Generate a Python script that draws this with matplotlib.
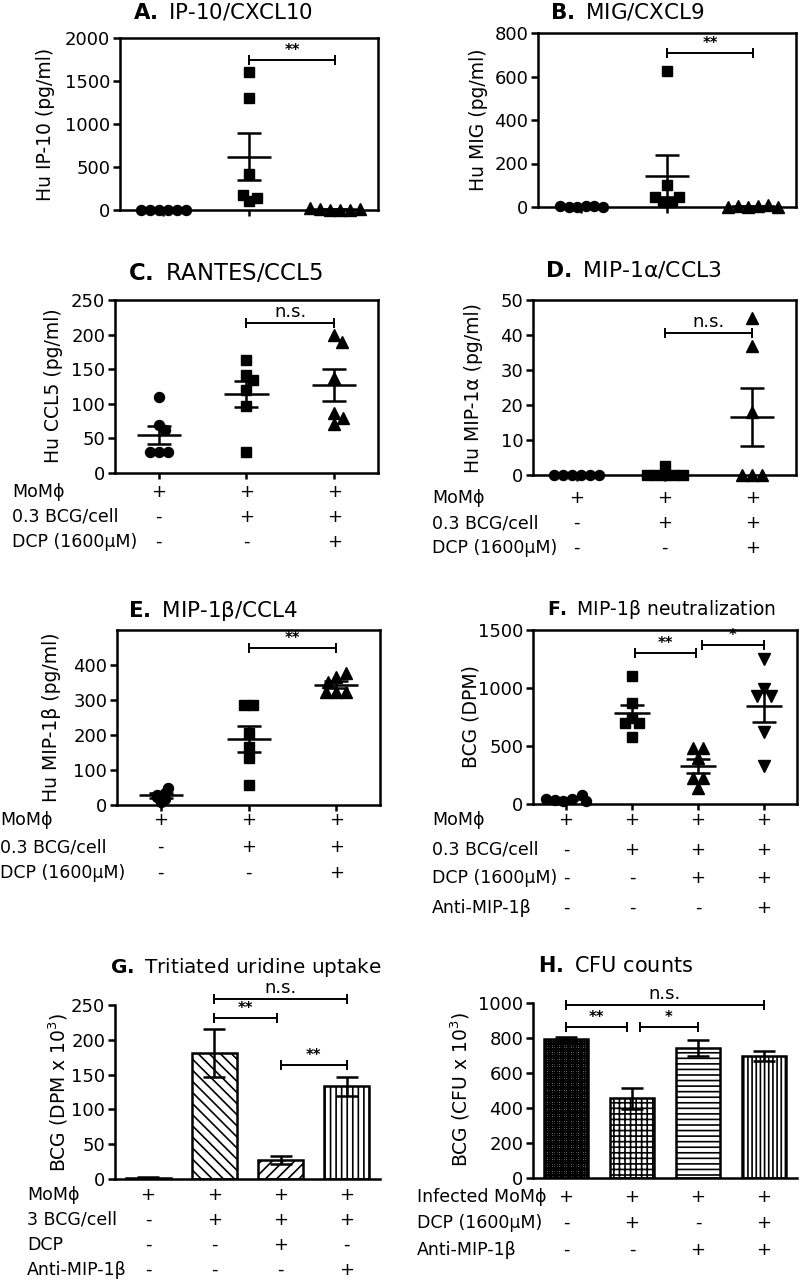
import numpy as np
import matplotlib
matplotlib.use('Agg')
import matplotlib.pyplot as plt
from matplotlib.transforms import blended_transform_factory

plt.rcParams['font.family'] = ['DejaVu Sans']
plt.rcParams['mathtext.fontset'] = 'dejavusans'
plt.rcParams['hatch.linewidth'] = 1.2

# ---------------- data ----------------
# A. IP-10/CXCL10
a_g1 = [0, 0, 0, 0, 0, 0]
a_g2 = [1600, 1300, 420, 100, 140, 170]
a_g3 = [0, 5, 12, 0, 18, 8]
# B. MIG/CXCL9
b_g1 = [0, 4, 2, 6, 3, 1]
b_g2 = [625, 100, 25, 25, 45, 45]
b_g3 = [0, 6, 3, 10, 2, 0]
# C. RANTES/CCL5
c_g1 = [110, 70, 62, 30, 30, 30]
c_g2 = [163, 142, 134, 120, 97, 31]
c_g3 = [199, 190, 138, 86, 79, 71]
# D. MIP-1a/CCL3
d_g1 = [0, 0, 0, 0, 0, 0]
d_g2 = [0, 0, 0, 0, 0, 2.5]
d_g3 = [45, 37, 18, 0, 0, 0]
# E. MIP-1b/CCL4
e_g1 = [35, 50, 30, 22, 8, 18]
e_g2 = [286, 286, 205, 167, 134, 57]
e_g3 = [367, 377, 352, 322, 322, 322]
# F. MIP-1b neutralization
f_g1 = [30, 40, 35, 75, 45, 30]
f_g2 = [1103, 870, 741, 698, 698, 578]
f_g3 = [480, 480, 396, 224, 224, 140]
f_g4 = [1250, 990, 930, 930, 620, 330]
# G. Tritiated uridine uptake (mean, SEM)
g_mean = [2, 181, 27, 133]
g_sem = [1, 35, 6, 14]
# H. CFU counts (mean, SEM)
h_mean = [795, 455, 745, 698]
h_sem = [12, 60, 45, 27]

rows3_labels = ['MoMϕ', '0.3 BCG/cell', 'DCP (1600μM)']
rows3_signs = [['+', '+', '+'], ['-', '+', '+'], ['-', '-', '+']]
f_labels = ['MoMϕ', '0.3 BCG/cell', 'DCP (1600μM)', 'Anti-MIP-1β']
f_signs = [['+', '+', '+', '+'], ['-', '+', '+', '+'], ['-', '-', '+', '+'], ['-', '-', '-', '+']]
g_labels = ['MoMϕ', '3 BCG/cell', 'DCP', 'Anti-MIP-1β']
g_signs = [['+', '+', '+', '+'], ['-', '+', '+', '+'], ['-', '-', '+', '-'], ['-', '-', '-', '+']]
h_labels = ['Infected MoMϕ', 'DCP (1600μM)', 'Anti-MIP-1β']
h_signs = [['+', '+', '+', '+'], ['-', '+', '-', '+'], ['-', '-', '+', '+']]

# ---------------- figure ----------------
W, H = 800, 1282
fig = plt.figure(figsize=(W / 100, H / 100), dpi=100)
renderer = fig.canvas.get_renderer()

LW = 1.8
TICK_FS = 13
YLAB_FS = 13.5
TITLE_FS = 15.5
ROW_FS = 12.5
SIGN_FS = 13


def make_ax(l, t, r, b, box=True):
    ax = fig.add_axes([l / W, 1 - b / H, (r - l) / W, (b - t) / H])
    for s in ax.spines.values():
        s.set_linewidth(LW)
    if not box:
        ax.spines['top'].set_visible(False)
        ax.spines['right'].set_visible(False)
    ax.tick_params(axis='y', labelsize=TICK_FS, length=5, width=LW, pad=2)
    ax.tick_params(axis='x', length=4, width=LW, labelbottom=False)
    ax.set_facecolor('none')
    return ax


def px_per_unit(ax):
    a = ax.transData.transform([(0, 0), (1, 0)])
    return a[1, 0] - a[0, 0]


def swarm(ax, x0, vals, diam_px, frac=0.85):
    pts = np.column_stack([np.full(len(vals), float(x0)), np.asarray(vals, float)])
    ys = ax.transData.transform(pts)[:, 1]
    dmin = diam_px * frac
    cands = sorted(np.arange(-40, 40.01, 0.5), key=lambda c: (abs(c), -c))
    placed, offs = [], []
    for y in ys:
        for c in cands:
            if all((c - px) ** 2 + (y - py) ** 2 >= dmin ** 2 - 1e-6 for px, py in placed):
                break
        placed.append((c, y))
        offs.append(c)
    offs = np.array(offs)
    # centre clusters of (nearly) equal values
    order = np.argsort(ys)
    clusters, cur = [], [order[0]]
    for a, b in zip(order[:-1], order[1:]):
        if ys[b] - ys[a] < 2.0:
            cur.append(b)
        else:
            clusters.append(cur)
            cur = [b]
    clusters.append(cur)
    for cl in clusters:
        if len(cl) > 1:
            cl = np.array(cl)
            offs[cl] -= (offs[cl].max() + offs[cl].min()) / 2
    return offs / px_per_unit(ax)


def dot_panel(ax, groups, markers, mean_hw_px=22, cap_px=12):
    ppu = px_per_unit(ax)
    for i, (vals, m) in enumerate(zip(groups, markers)):
        x0 = i + 1
        ms = 7.2 if m in ('o', 's') else 8.2
        off = swarm(ax, x0, vals, ms * 1.39)
        ax.plot(x0 + off, vals, ls='none', marker=m, ms=ms, color='k', mec='k',
                clip_on=False, zorder=3)
        v = np.asarray(vals, float)
        mean = v.mean()
        sem = v.std(ddof=1) / np.sqrt(len(v))
        hw = mean_hw_px / ppu
        ax.plot([x0 - hw, x0 + hw], [mean, mean], color='k', lw=LW, zorder=4,
                solid_capstyle='butt', clip_on=False)
        ax.errorbar([x0], [mean], yerr=[sem], fmt='none', ecolor='k', elinewidth=LW,
                    capsize=cap_px / 1.389, capthick=LW, zorder=4, clip_on=False)


def bar_panel(ax, means, sems, hatches):
    x = np.arange(1, len(means) + 1)
    ax.bar(x, means, width=0.68, color='white', edgecolor='k', linewidth=LW,
           hatch=hatches, zorder=2)
    ax.errorbar(x, means, yerr=sems, fmt='none', ecolor='k', elinewidth=LW,
                capsize=8, capthick=LW, zorder=3)


def sig(ax, x1, x2, y, text, bold):
    ax.plot([x1, x2], [y, y], color='k', lw=1.4, marker='|', ms=7, mew=1.4,
            clip_on=False, zorder=5)
    ax.annotate(text, xy=((x1 + x2) / 2, y), xytext=(0, 1.5), textcoords='offset points',
                ha='center', va='bottom', fontsize=10.5 if bold else 13,
                fontweight='bold' if bold else 'normal', annotation_clip=False)


def rows(ax, labels, signs, label_x_px, bottom_px, offsets_px):
    trans = blended_transform_factory(ax.transData, fig.transFigure)
    for lab, sg, off in zip(labels, signs, offsets_px):
        yf = 1 - (bottom_px + off) / H
        fig.text(label_x_px / W, yf, lab, ha='left', va='center', fontsize=ROW_FS)
        for i, s in enumerate(sg):
            ax.text(i + 1, yf, s, transform=trans, ha='center', va='center',
                    fontsize=SIGN_FS)


def title(x_px, base_px, letter, rest, width_px):
    t = fig.text(x_px / W, 1 - base_px / H, r'$\mathbf{' + letter + r'.}$ ' + rest,
                 ha='left', va='baseline', fontsize=TITLE_FS)
    for _ in range(2):
        w = t.get_window_extent(renderer).width
        t.set_fontsize(min(16.5, t.get_fontsize() * width_px / w))


def ylab(cx, cy, text):
    fig.text(cx / W, 1 - cy / H, text, rotation=90, ha='center', va='center',
             fontsize=YLAB_FS)


# ---- A ----
axA = make_ax(120, 38, 378, 210)
axA.set_xlim(0.5, 3.5); axA.set_ylim(0, 2000)
axA.set_yticks([0, 500, 1000, 1500, 2000]); axA.set_xticks([1, 2, 3])
dot_panel(axA, [a_g1, a_g2, a_g3], ['o', 's', '^'])
sig(axA, 2, 3, 1744, '**', True)
title(133, 19, 'A', 'IP-10/CXCL10', 180)
ylab(46, 124, 'Hu IP-10 (pg/ml)')

# ---- B ----
axB = make_ax(538, 33, 796, 207)
axB.set_xlim(0.5, 3.5); axB.set_ylim(0, 800)
axB.set_yticks([0, 200, 400, 600, 800]); axB.set_xticks([1, 2, 3])
dot_panel(axB, [b_g1, b_g2, b_g3], ['o', 's', '^'])
sig(axB, 2, 3, 708, '**', True)
title(550, 18, 'B', 'MIG/CXCL9', 155)
ylab(478, 120, 'Hu MIG (pg/ml)')

# ---- C ----
axC = make_ax(115, 300, 378, 473)
axC.set_xlim(0.5, 3.5); axC.set_ylim(0, 250)
axC.set_yticks([0, 50, 100, 150, 200, 250]); axC.set_xticks([1, 2, 3])
dot_panel(axC, [c_g1, c_g2, c_g3], ['o', 's', '^'])
sig(axC, 2, 3, 217, 'n.s.', False)
title(128, 280, 'C', 'RANTES/CCL5', 195)
ylab(54, 386, 'Hu CCL5 (pg/ml)')
rows(axC, rows3_labels, rows3_signs, 12, 473, [19, 44, 69])

# ---- D ----
axD = make_ax(533, 300, 796, 475)
axD.set_xlim(0.5, 3.5); axD.set_ylim(0, 50)
axD.set_yticks([0, 10, 20, 30, 40, 50]); axD.set_xticks([1, 2, 3])
dot_panel(axD, [d_g1, d_g2, d_g3], ['o', 's', '^'])
sig(axD, 2, 3, 40.5, 'n.s.', False)
title(545, 277, 'D', 'MIP-1α/CCL3', 177)
ylab(473, 388, 'Hu MIP-1α (pg/ml)')
rows(axD, rows3_labels, rows3_signs, 432, 475, [23, 48, 73])

# ---- E ----
axE = make_ax(117, 630, 380, 805)
axE.set_xlim(0.5, 3.5); axE.set_ylim(0, 500)
axE.set_yticks([0, 100, 200, 300, 400]); axE.set_xticks([1, 2, 3])
dot_panel(axE, [e_g1, e_g2, e_g3], ['o', 's', '^'])
sig(axE, 2, 3, 449, '**', True)
title(128, 617, 'E', 'MIP-1β/CCL4', 169)
ylab(52, 717, 'Hu MIP-1β (pg/ml)')
rows(axE, rows3_labels, rows3_signs, 0, 805, [15, 42, 68])

# ---- F ----
axF = make_ax(533, 630, 797, 804)
axF.set_xlim(0.5, 4.5); axF.set_ylim(0, 1500)
axF.set_yticks([0, 500, 1000, 1500]); axF.set_xticks([1, 2, 3, 4])
dot_panel(axF, [f_g1, f_g2, f_g3, f_g4], ['o', 's', '^', 'v'], mean_hw_px=18)
sig(axF, 2.05, 2.97, 1300, '**', True)
sig(axF, 3.06, 4.0, 1370, '*', True)
title(547, 615, 'F', 'MIP-1β neutralization', 228)
ylab(471, 717, 'BCG (DPM)')
rows(axF, f_labels, f_signs, 432, 804, [16, 46, 74, 104])

# ---- G ----
axG = make_ax(115, 1005, 380, 1179, box=False)
axG.set_xlim(0.5, 4.5); axG.set_ylim(0, 250)
axG.set_yticks([0, 50, 100, 150, 200, 250]); axG.set_xticks([])
bar_panel(axG, g_mean, g_sem, ['', '\\\\\\', '///', '|||'])
sig(axG, 2, 4, 258, 'n.s.', False)
sig(axG, 2, 2.95, 231, '**', True)
sig(axG, 3, 4, 164, '**', True)
title(110, 973, 'G', 'Tritiated uridine uptake', 270)
ylab(58, 1092, 'BCG (DPM x 10$^3$)')
rows(axG, g_labels, g_signs, 27, 1179, [16, 41, 66, 91])

# ---- H ----
axH = make_ax(533, 1003, 797, 1178, box=False)
axH.set_xlim(0.5, 4.5); axH.set_ylim(0, 1000)
axH.set_yticks([0, 200, 400, 600, 800, 1000]); axH.set_xticks([])
bar_panel(axH, h_mean, h_sem, ['+++++++', '+++', '---', '||||'])
sig(axH, 1, 4, 990, 'n.s.', False)
sig(axH, 1, 1.93, 862, '**', True)
sig(axH, 2.12, 3.0, 862, '*', True)
title(538, 972, 'H', 'CFU counts', 155)
ylab(460, 1090, 'BCG (CFU x 10$^3$)')
rows(axH, h_labels, h_signs, 417, 1178, [19, 45, 72])

fig.savefig('out.png', dpi=100)
